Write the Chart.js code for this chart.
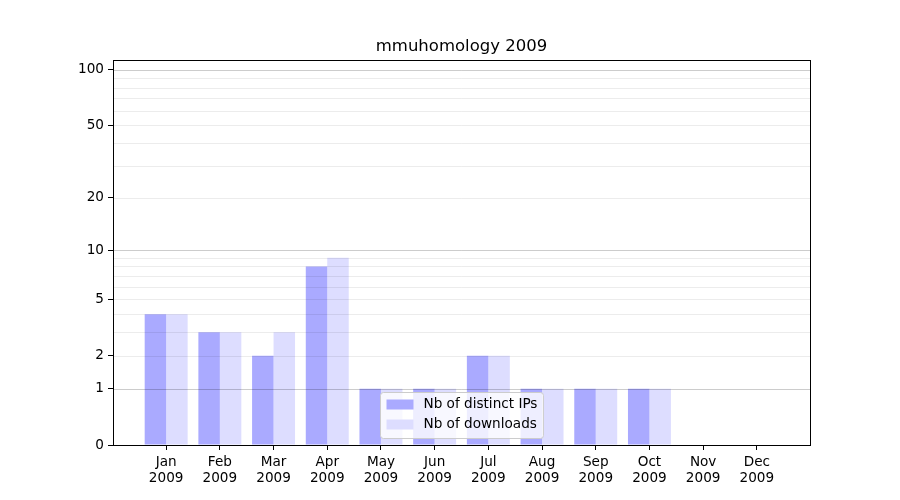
<!DOCTYPE html>
<html>
<head>
<meta charset="utf-8">
<script src="https://cdn.jsdelivr.net/npm/chart.js@4/dist/chart.umd.min.js"></script>
<style>
  html, body { margin: 0; padding: 0; background: #fff; }
  #wrap { width: 900px; height: 500px; }
</style>
</head>
<body>
<div id="wrap"><canvas id="c" width="900" height="500"></canvas></div>
<script>
const chartTitle = 'mmuhomology 2009';
const categories = ['Jan 2009','Feb 2009','Mar 2009','Apr 2009','May 2009','Jun 2009','Jul 2009','Aug 2009','Sep 2009','Oct 2009','Nov 2009','Dec 2009'];
const seriesNames = ['Nb of distinct IPs', 'Nb of downloads'];
const distinctIPs = [4, 3, 2, 8, 1, 1, 2, 1, 1, 1, 0, 0];
const downloads   = [4, 3, 3, 9, 1, 1, 2, 1, 1, 1, 0, 0];
const yTickLabels = [0, 1, 2, 5, 10, 20, 50, 100];
const yMajorGrid  = [1, 10, 100];
const yMinorGrid  = [2, 3, 4, 5, 6, 7, 8, 9, 20, 30, 40, 50, 60, 70, 80, 90];
const yTop = 113;

const FONT = '"DejaVu Sans", "Liberation Sans", sans-serif';
const tr = v => Math.log10(1 + v);
const allYTicks = Array.from(new Set([...yTickLabels, ...yMajorGrid, ...yMinorGrid])).sort((a, b) => a - b);

const overlayPlugin = {
  id: 'overlay',
  afterDatasetsDraw(chart) {
    const ctx = chart.ctx, a = chart.chartArea, ys = chart.scales.y;
    ctx.save();
    ctx.lineWidth = 1;
    const line = (v, color) => {
      const y = Math.round(ys.getPixelForValue(tr(v))) + 0.5;
      ctx.strokeStyle = color;
      ctx.beginPath(); ctx.moveTo(a.left, y); ctx.lineTo(a.right, y); ctx.stroke();
    };
    yMinorGrid.forEach(v => line(v, 'rgba(0,0,0,0.075)'));
    yMajorGrid.forEach(v => line(v, 'rgba(0,0,0,0.2)'));
    // frame
    ctx.strokeStyle = '#000';
    ctx.lineWidth = 1;
    ctx.strokeRect(Math.round(a.left) + 0.5, Math.round(a.top) + 0.5, Math.round(a.right - a.left), Math.round(a.bottom - a.top));
    // title
    ctx.fillStyle = '#000';
    ctx.font = '16.5px ' + FONT;
    ctx.textAlign = 'center';
    ctx.textBaseline = 'middle';
    ctx.fillText(chartTitle, (a.left + a.right) / 2, a.top - 13);
    // legend (lower center)
    ctx.font = '13.6px ' + FONT;
    const tw = Math.max(...seriesNames.map(s => ctx.measureText(s).width));
    const w = 6 + 27 + 10 + tw + 6;
    const h = 46;
    const x0 = Math.round((a.left + a.right) / 2 - w / 2) + 0.5;
    const y0 = Math.round(a.bottom - 7 - h) + 0.5;
    ctx.beginPath();
    if (ctx.roundRect) ctx.roundRect(x0, y0, w, h, 3); else ctx.rect(x0, y0, w, h);
    ctx.fillStyle = 'rgba(255,255,255,0.8)';
    ctx.fill();
    ctx.strokeStyle = '#cccccc';
    ctx.stroke();
    const colors = chart.data.datasets.map(d => d.backgroundColor);
    seriesNames.forEach((s, i) => {
      const cy = y0 + 12 + i * 20;
      ctx.fillStyle = colors[i];
      ctx.fillRect(x0 + 6, cy - 5, 27, 10);
      ctx.fillStyle = '#000';
      ctx.textAlign = 'left';
      ctx.textBaseline = 'middle';
      ctx.fillText(s, x0 + 6 + 27 + 10, cy);
    });
    ctx.restore();
  }
};

new Chart(document.getElementById('c'), {
  type: 'bar',
  data: {
    datasets: [
      { label: seriesNames[0], data: distinctIPs.map((v, i) => ({ x: i, y: tr(v) })), backgroundColor: '#aaaaff', borderWidth: 0, categoryPercentage: 0.8, barPercentage: 1.0 },
      { label: seriesNames[1], data: downloads.map((v, i) => ({ x: i, y: tr(v) })), backgroundColor: '#ddddff', borderWidth: 0, categoryPercentage: 0.8, barPercentage: 1.0 }
    ]
  },
  options: {
    responsive: false,
    animation: false,
    events: [],
    layout: { padding: { left: 0, right: 90, top: 60, bottom: 0 } },
    plugins: { legend: { display: false }, title: { display: false }, tooltip: { enabled: false } },
    scales: {
      x: {
        type: 'linear',
        min: -0.99,
        max: 11.99,
        offset: false,
        afterBuildTicks: s => { s.ticks = categories.map((c, i) => ({ value: i })); },
        afterFit: s => { s.height = 55; },
        border: { display: false },
        grid: { offset: false, drawOnChartArea: false, drawTicks: true, tickLength: 5, tickColor: '#000' },
        ticks: {
          autoSkip: false, maxRotation: 0, padding: 5,
          color: '#000', font: { family: FONT, size: 13.6, lineHeight: 1.17 },
          callback: (v, i) => categories[i].split(' ')
        }
      },
      y: {
        type: 'linear',
        min: 0,
        max: tr(yTop),
        afterBuildTicks: s => { s.ticks = allYTicks.map(v => ({ value: tr(v) })); },
        afterFit: s => { s.width = 113; },
        border: { display: false },
        grid: {
          drawOnChartArea: false, drawTicks: true, tickLength: 5,
          tickColor: c => yTickLabels.includes(allYTicks[c.index]) ? '#000' : 'rgba(0,0,0,0)'
        },
        ticks: {
          autoSkip: false, padding: 4,
          color: '#000', font: { family: FONT, size: 13.6 },
          callback: (v, i) => yTickLabels.includes(allYTicks[i]) ? String(allYTicks[i]) : ''
        }
      }
    }
  },
  plugins: [overlayPlugin]
});
</script>
</body>
</html>
